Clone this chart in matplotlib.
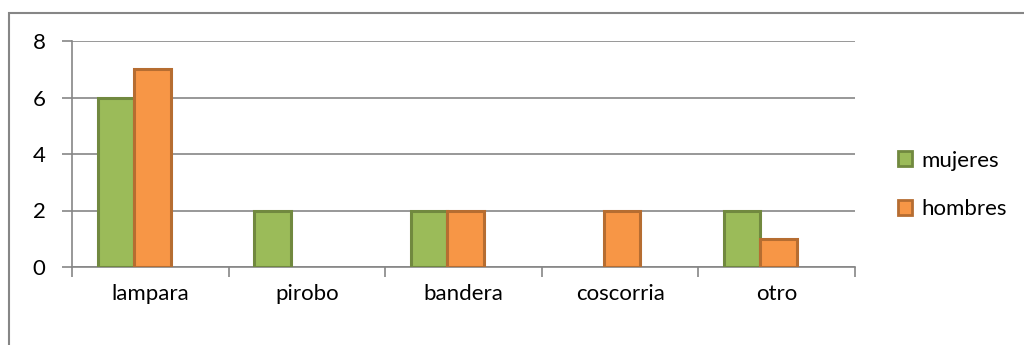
import matplotlib.pyplot as plt
from matplotlib.patches import Rectangle, Patch
import numpy as np

plt.rcParams['font.family'] = ['Lato', 'DejaVu Sans']

categorias = ['lampara', 'pirobo', 'bandera', 'coscorria', 'otro']
mujeres = [6, 2, 2, 0, 2]
hombres = [7, 0, 2, 2, 1]

verde, verde_borde = '#9BBB59', '#71893F'
naranja, naranja_borde = '#F79646', '#B66D31'
gris = '#868686'

fig = plt.figure(figsize=(10.24, 3.45), dpi=100)
ax = fig.add_axes([72 / 1024, 1 - 267 / 345, (855 - 72) / 1024, (267 - 41) / 345])

# marco exterior del gráfico
fig.patches.append(Rectangle((9 / 1024, -0.1), 1.2, 1.1 - 13 / 345, transform=fig.transFigure,
                             fill=False, edgecolor=gris, linewidth=1.5))

x = np.arange(len(categorias))
ancho = 0.233
# las barras con valor 0 no se dibujan (así no queda el borde en la base)
for valores, desp, color, borde in [(mujeres, -0.22, verde, verde_borde),
                                     (hombres, 0.013, naranja, naranja_borde)]:
    v = np.array(valores)
    m = v > 0
    ax.bar(x[m] + desp, v[m], ancho, color=color, edgecolor=borde, linewidth=2.2, zorder=3)

ax.set_xlim(-0.5, len(categorias) - 0.5)
ax.set_ylim(0, 8)
ax.set_yticks([0, 2, 4, 6, 8])
ax.yaxis.grid(True, color=gris, linewidth=1.2, zorder=0)

ax.set_xticks(np.arange(-0.5, len(categorias)), [''] * (len(categorias) + 1))
ax.set_xticks(x, categorias, minor=True)
ax.tick_params(axis='x', which='major', length=7, width=1.2, color=gris)
ax.tick_params(axis='x', which='minor', length=0, pad=12, labelsize=16)
ax.tick_params(axis='y', length=7, width=1.2, color=gris, pad=12, labelsize=16)

for lado in ['top', 'right']:
    ax.spines[lado].set_visible(False)
for lado in ['left', 'bottom']:
    ax.spines[lado].set_color(gris)
    ax.spines[lado].set_linewidth(1.2)

elementos = [Patch(facecolor=verde, edgecolor=verde_borde, linewidth=2, label='mujeres'),
             Patch(facecolor=naranja, edgecolor=naranja_borde, linewidth=2, label='hombres')]
fig.legend(handles=elementos, loc='center left', bbox_to_anchor=(878 / 1024, 1 - 185 / 345),
           frameon=False, fontsize=16, handlelength=0.65, handleheight=0.65,
           handletextpad=0.4, labelspacing=1.3)

fig.savefig('out.png', dpi=100)
